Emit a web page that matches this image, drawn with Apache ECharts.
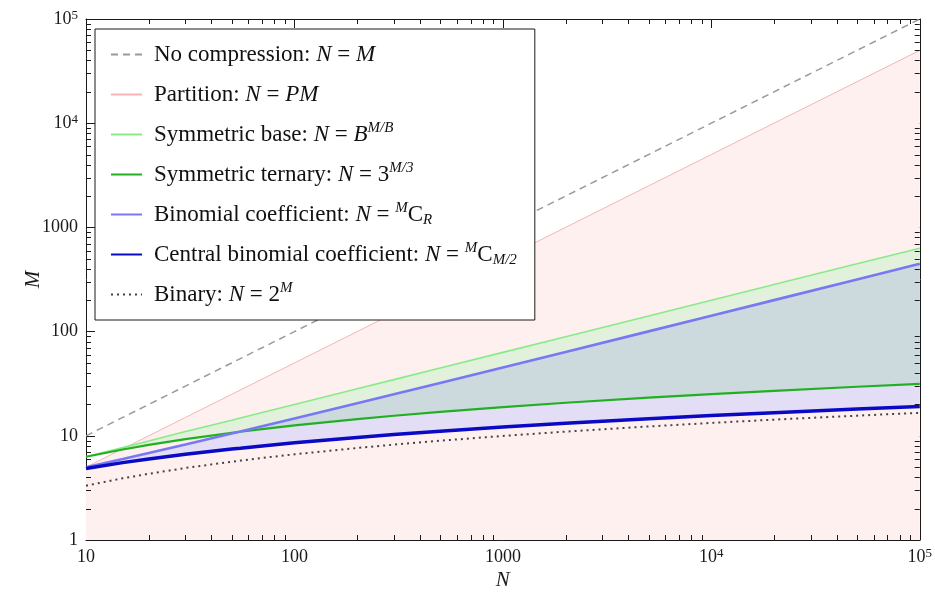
<!DOCTYPE html>
<html><head><meta charset="utf-8">
<script src="https://cdn.jsdelivr.net/npm/echarts@6/dist/echarts.min.js"></script>
<style>html,body{margin:0;padding:0;background:#fff}#c{width:935px;height:602px}</style>
</head><body><div id="c"></div>
<script>
// ---- data ----
const N = [10, 15, 20, 30, 50, 55, 70, 100, 200, 300, 500, 1000, 2000, 5000, 10000, 20000, 50000, 100000];
const noCompression = [10, 15, 20, 30, 50, 55, 70, 100, 200, 300, 500, 1000, 2000, 5000, 10000, 20000, 50000, 100000];
const partition = [5, 7.5, 10, 15, 25, 27.5, 35, 50, 100, 150, 250, 500, 1000, 2500, 5000, 10000, 25000, 50000];
const symmetricBase = [6.3, 7.7, 8.9, 11.0, 14.1, 14.8, 16.7, 20.0, 28.3, 34.6, 44.7, 63.2, 89.4, 141, 200, 283, 447, 632];
const symmetricTernary = [6.29, 7.39, 8.18, 9.29, 10.68, 10.94, 11.6, 12.58, 14.47, 15.58, 16.97, 18.86, 20.76, 23.26, 25.15, 27.04, 29.55, 31.44];
const binomialCoef = [5.0, 6.0, 6.84, 8.26, 10.51, 11.0, 12.34, 14.65, 20.5, 25.0, 32.1, 45.2, 63.7, 100.5, 141.9, 200.5, 316.7, 447.7];
const centralBinomial = [4.86, 5.53, 6.0, 6.65, 7.47, 7.61, 8.0, 8.56, 9.64, 10.27, 11.06, 12.12, 13.18, 14.57, 15.62, 16.67, 18.04, 19.08];
const binary = [3.32, 3.91, 4.32, 4.91, 5.64, 5.78, 6.13, 6.64, 7.64, 8.23, 8.97, 9.97, 10.97, 12.29, 13.29, 14.29, 15.61, 16.61];

const xTicks = [10, 100, 1000, 10000, 100000];
const xTickLabels = ['10', '100', '1000', '10{s|4}', '10{s|5}'];
const yTicks = [1, 10, 100, 1000, 10000, 100000];
const yTickLabels = ['1', '10', '100', '1000', '10{s|4}', '10{s|5}'];

const seriesNames = ['No compression', 'Partition', 'Symmetric base', 'Symmetric ternary', 'Binomial coefficient', 'Central binomial coefficient', 'Binary'];
const legendLabels = [
  'No compression: {i|N} = {i|M}',
  'Partition: {i|N} = {i|PM}',
  'Symmetric base: {i|N} = {i|B}{sup|M/B}',
  'Symmetric ternary: {i|N} = 3{sup|M/3}',
  'Binomial coefficient: {i|N} = {sup|M}C{sub|R}',
  'Central binomial coefficient: {i|N} = {sup|M}C{sub|M/2}',
  'Binary: {i|N} = 2{sup|M}'
];

// ---- chart ----
const SERIF = '"Liberation Serif", "DejaVu Serif", serif';
const AX = '#1a1a1a';
const chart = echarts.init(document.getElementById('c'));

function pairs(ys) { return N.map((x, i) => [x, ys[i]]); }
function tickFmt(ticks, labels) {
  return v => { const i = ticks.findIndex(t => Math.abs(t - v) / t < 1e-6); return i >= 0 ? labels[i] : ''; };
}
const yFloor = N.map(() => 1);
const overlapTop = N.map((_, i) => Math.max(binomialCoef[i], symmetricTernary[i]));

function band(upper, lower, color) {
  return {
    type: 'custom', silent: true, z: 1, data: [[N[0], 10]],
    renderItem: (params, api) => {
      const pts = [];
      for (let i = 0; i < N.length; i++) pts.push(api.coord([N[i], upper[i]]));
      for (let i = N.length - 1; i >= 0; i--) pts.push(api.coord([N[i], lower[i]]));
      return { type: 'polygon', shape: { points: pts }, style: { fill: color } };
    }
  };
}

const xMinor = [], yMinor = [];
[10, 100, 1000, 10000].forEach(d => { for (let k = 2; k <= 9; k++) xMinor.push(d * k); });
[1, 10, 100, 1000, 10000].forEach(d => { for (let k = 2; k <= 9; k++) yMinor.push(d * k); });

const minorTicks = {
  type: 'custom', silent: true, z: 6, data: [[100, 10]],
  renderItem: (params, api) => {
    const cs = params.coordSys, ch = [], L = 5;
    const ln = (x1, y1, x2, y2) => ({ type: 'line', shape: { x1, y1, x2, y2 }, style: { stroke: AX, lineWidth: 1 } });
    const b = cs.y + cs.height, r = cs.x + cs.width;
    xMinor.forEach(v => { const x = Math.round(api.coord([v, 10])[0]) + 0.5; ch.push(ln(x, b, x, b - L)); ch.push(ln(x, cs.y, x, cs.y + L)); });
    yMinor.forEach(v => { const y = Math.round(api.coord([100, v])[1]) + 0.5; ch.push(ln(cs.x, y, cs.x + L, y)); ch.push(ln(r, y, r - L, y)); });
    return { type: 'group', children: ch };
  }
};

function lineSeries(name, ys, color, width, type) {
  return {
    name, type: 'line', data: pairs(ys), symbol: 'none', showSymbol: false, z: 3, silent: true,
    lineStyle: { color, width, type: type || 'solid', cap: 'butt' },
    itemStyle: { color }
  };
}

const labelRich = { s: { fontSize: 13, fontFamily: SERIF, verticalAlign: 'top', lineHeight: 10, color: AX } };
const axisCommon = {
  type: 'log', logBase: 10,
  axisLine: { show: true, lineStyle: { color: AX, width: 1 } },
  axisTick: { show: true, inside: true, length: 9, lineStyle: { color: AX } },
  splitLine: { show: false }, minorTick: { show: false }
};

chart.setOption({
  animation: false,
  backgroundColor: '#fff',
  grid: { left: 86, right: 13, top: 19, bottom: 62 },
  xAxis: [
    Object.assign({}, axisCommon, {
      min: 10, max: 100000, position: 'bottom',
      name: 'N', nameLocation: 'middle', nameGap: 30, nameMoveOverlap: false,
      nameTextStyle: { fontFamily: SERIF, fontStyle: 'italic', fontSize: 21, color: AX },
      axisLabel: { fontFamily: SERIF, fontSize: 18, color: AX, margin: 7, lineHeight: 20, formatter: tickFmt(xTicks, xTickLabels), rich: labelRich }
    }),
    Object.assign({}, axisCommon, { min: 10, max: 100000, position: 'top', axisLabel: { show: false } })
  ],
  yAxis: [
    Object.assign({}, axisCommon, {
      min: 1, max: 100000, position: 'left',
      name: 'M', nameLocation: 'middle', nameGap: 42, nameMoveOverlap: false,
      nameTextStyle: { fontFamily: SERIF, fontStyle: 'italic', fontSize: 21, color: AX },
      axisLabel: { fontFamily: SERIF, fontSize: 18, color: AX, margin: 8, lineHeight: 20, formatter: tickFmt(yTicks, yTickLabels), rich: labelRich }
    }),
    Object.assign({}, axisCommon, { min: 1, max: 100000, position: 'right', axisLabel: { show: false } })
  ],
  legend: {
    orient: 'vertical', left: 95, top: 29,
    padding: [12, 18, 12, 15],
    backgroundColor: '#fff', borderColor: AX, borderWidth: 1, borderRadius: 0,
    itemWidth: 31, itemHeight: 10, itemGap: 13,
    itemStyle: { opacity: 0 },
    data: seriesNames,
    formatter: name => legendLabels[seriesNames.indexOf(name)],
    textStyle: {
      fontFamily: SERIF, fontSize: 23, color: '#111', lineHeight: 27, padding: [0, 0, 0, 7],
      rich: {
        i: { fontFamily: SERIF, fontSize: 23, fontStyle: 'italic', color: '#111', lineHeight: 27 },
        sup: { fontFamily: SERIF, fontSize: 15, fontStyle: 'italic', color: '#111', verticalAlign: 'top', lineHeight: 13 },
        sub: { fontFamily: SERIF, fontSize: 15, fontStyle: 'italic', color: '#111', verticalAlign: 'bottom', lineHeight: 16 }
      }
    }
  },
  series: [
    band(partition, yFloor, '#fff0f0'),
    band(symmetricBase, symmetricTernary, '#e2f1dc'),
    band(binomialCoef, centralBinomial, '#e3ddf6'),
    band(overlapTop, symmetricTernary, '#cddadd'),
    lineSeries('No compression', noCompression, '#9a9a9a', 1.5, [7, 5]),
    lineSeries('Partition', partition, '#f8b4b4', 1),
    lineSeries('Symmetric base', symmetricBase, '#86ec86', 1.6),
    lineSeries('Symmetric ternary', symmetricTernary, '#22b022', 2.2),
    lineSeries('Binomial coefficient', binomialCoef, '#7878f4', 2.6),
    lineSeries('Central binomial coefficient', centralBinomial, '#0a0ac4', 3.5),
    lineSeries('Binary', binary, '#444444', 2, [2, 4]),
    minorTicks
  ]
});
</script></body></html>
